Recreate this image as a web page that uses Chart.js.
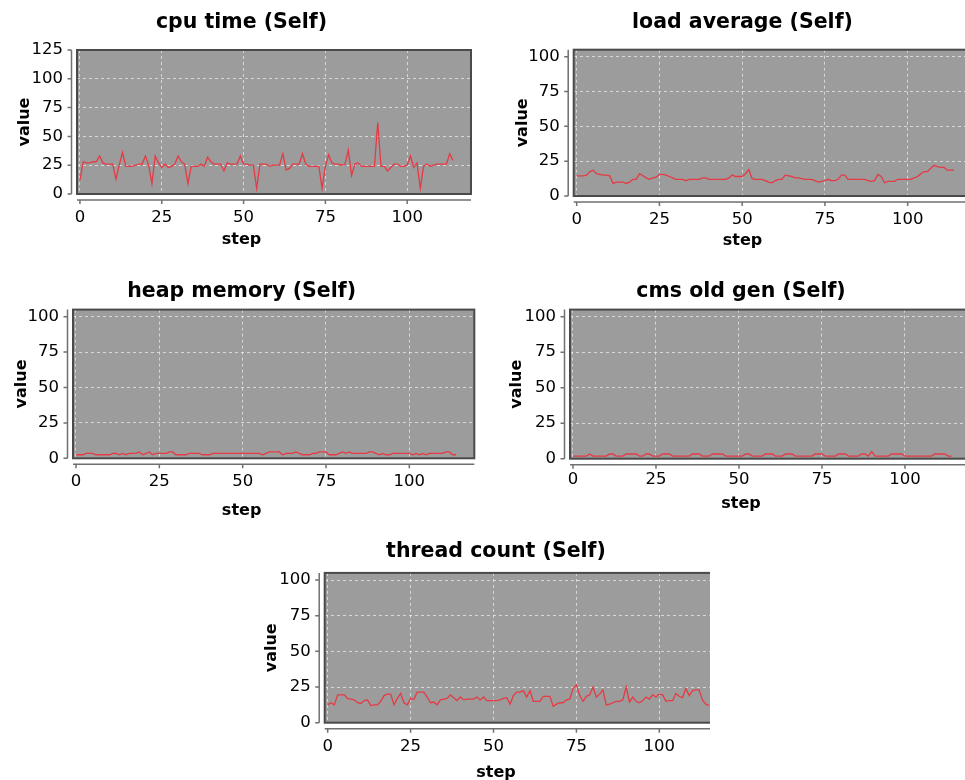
<!DOCTYPE html>
<html>
<head>
<meta charset="utf-8">
<script src="https://cdn.jsdelivr.net/npm/chart.js@4/dist/chart.umd.min.js"></script>
<style>
  html, body { margin:0; padding:0; background:#ffffff; width:965px; height:780px; overflow:hidden; position:relative; }
  canvas { position:absolute; }
  .clip { position:absolute; overflow:hidden; }
</style>
</head>
<body>
<canvas id="c1" width="487" height="255" style="left:0px;top:0px"></canvas>
<canvas id="c2" width="486" height="256" style="left:500px;top:0px"></canvas>
<canvas id="c3" width="484" height="257" style="left:0px;top:269px"></canvas>
<canvas id="c4" width="480" height="250" style="left:500px;top:269px"></canvas>
<div class="clip" style="left:260px;top:529px;width:450px;height:251px">
  <canvas id="c5" width="470" height="259" style="left:0px;top:0px"></canvas>
</div>
<script>
// ---- data ----
const chartTitles = ["cpu time (Self)", "load average (Self)", "heap memory (Self)", "cms old gen (Self)", "thread count (Self)"];
const xTitle = "step";
const yTitle = "value";
const xTickValues = [0, 25, 50, 75, 100];
const yTickValuesCpu = [0, 25, 50, 75, 100, 125];
const yTickValuesOther = [0, 25, 50, 75, 100];

const cpuTime = [12,28,27,27,28,28,33,27,26,26,
 26,13,25,36,24,24,24,25,26,26,
 33,25,9,33,27,23,26,23,24,26,
 33,28,26,9,24,24,24,26,24,32,
 28,26,26,26,20,27,26,26,26,33,
 26,26,25,25,5,26,26,26,24,25,
 25,25,35,21,22,26,26,26,35,26,
 24,24,24,24,5,24,34,27,26,26,
 25,26,38,16,26,27,24,24,24,24,
 24,62,24,24,20,23,26,26,24,24,
 25,33,23,27,5,24,26,24,25,26,
 26,26,26,35,29];

const loadAverage = [14.5,14.5,14.5,15,17.5,18.5,16,15.5,15,15,
 14.5,9,10,10,10,9,10,12,12,16,
 14.5,13,12,13,13.5,15.5,15.5,15,14,13,
 12,12,12,11,12,12,12,12,13,13,
 12,12,12,12,12,12,13,15,14,14,
 14,16,19,12.5,12,12,12,11,10,9.5,
 11,12,12,15,14.5,14,13,13,12.5,12,
 12,12,11,10,10.5,11,12,11,11,12,
 15,15,12,12,12,12,12,12,11,10.5,
 11,15.5,14,9.5,10.5,10.5,10.5,12,12,12,
 12,12,13,14,16,17.5,17.5,20,22,21,
 20.5,20.5,18.5,18.5,18.5];

const heapMemory = [2.5,2.5,2.5,3.5,3.5,3.5,2.5,2.5,2.5,2.5,
 2.5,3.5,3.5,2.5,3.5,2.5,3.5,3.5,3.5,4.5,
 2.5,3.5,4.5,2.5,3.5,3.5,3.5,3.5,4.5,4.5,
 2.5,2.5,2.5,2.5,3.5,3.5,3.5,3.5,2.5,2.5,
 2.5,3.5,3.5,3.5,3.5,3.5,3.5,3.5,3.5,3.5,
 3.5,3.5,3.5,3.5,3.5,3.5,2.5,3.5,4.5,4.5,
 4.5,4.5,2.5,3.5,3.5,3.5,4.5,3.5,2.5,2.5,
 2.5,3.5,3.5,4.5,4.5,4.5,2.5,2.5,2.5,3.5,
 4.5,3.5,4.5,3.5,3.5,3.5,3.5,3.5,4.5,4.5,
 3.5,2.5,3.5,2.5,2.5,3.5,3.5,3.5,3.5,3.5,
 3.5,2.5,3.5,2.5,3.5,2.5,3.5,3.5,3.5,3.5,
 3.5,4.5,4.5,2.5,2.5];

const cmsOldGen = [1.8,1.8,1.8,1.8,1.8,3.3,1.8,1.8,1.8,1.8,
 1.8,3.3,3.3,1.8,1.8,1.8,3.3,3.3,3.3,3.3,
 1.8,1.8,3.3,3.3,1.8,1.8,1.8,3.3,3.3,3.3,
 1.8,1.8,1.8,1.8,1.8,1.8,3.3,3.3,3.3,1.8,
 1.8,1.8,3.3,3.3,3.3,3.3,1.8,1.8,1.8,1.8,
 1.8,1.8,3.3,3.3,1.8,1.8,1.8,1.8,3.3,3.3,
 3.3,1.8,1.8,1.8,3.3,3.3,3.3,1.8,1.8,1.8,
 1.8,1.8,1.8,3.3,3.3,3.3,1.8,1.8,1.8,1.8,
 3.3,3.3,3.3,1.8,1.8,1.8,1.8,3.3,3.3,1.8,
 5,1.8,1.8,1.8,1.8,1.8,3.3,3.3,3.3,3.3,
 1.8,1.8,1.8,1.8,1.8,1.8,1.8,1.8,1.8,3.3,
 3.3,3.3,3.3,1.8,1.8];

const threadCount = [12.5,14,12.5,19.5,19.5,19.5,17,16.5,16,14,
 13.5,15.5,16,12,12.5,12.5,15,19,20,20,
 12.5,17,20.5,14,12.5,17,16.5,21.5,21.5,21.5,
 18,14,14.5,12.5,16,16.5,17,19.5,17.5,15.5,
 18,16,16.5,16.5,16.5,18,16,18,15.5,15.5,
 15.5,15.5,16,17,17.5,13,19,21.5,21.5,22.5,
 18,22.5,15,15,15,18.5,18.5,18.5,11.5,13,
 14,14,16,16.5,24,26.5,19,15,18.5,19.5,
 25,18,20,23,12.5,13,14,15,15,16,
 25,14.5,18,15,14,15.5,18,16.5,19.5,18,
 20,19.5,15,15.5,15.5,20.5,18.5,17.5,24,19,
 22.5,23,23,16,13,12];

// ---- styling / layout (not data) ----
const FONT = "'DejaVu Sans', Verdana, sans-serif";
const PLOT_BG = '#9c9c9c';
const LINE_COLOR = '#e63a44';

const framePlugin = {
  id: 'frame',
  beforeDraw(chart) {
    const {ctx, chartArea: a} = chart;
    ctx.save();
    ctx.fillStyle = PLOT_BG;
    ctx.fillRect(a.left, a.top, a.right - a.left, a.bottom - a.top);
    ctx.restore();
  },
  afterDraw(chart) {
    const {ctx, chartArea: a, scales} = chart;
    ctx.save();
    ctx.strokeStyle = '#4a4a4a';
    ctx.lineWidth = 2;
    ctx.strokeRect(a.left, a.top, a.right - a.left, a.bottom - a.top);
    ctx.strokeStyle = '#707070';
    ctx.lineWidth = 1.5;
    ctx.beginPath();
    const ax = a.left - 5.5;
    ctx.moveTo(ax, a.top); ctx.lineTo(ax, a.bottom);
    scales.y.ticks.forEach(t => {
      const y = scales.y.getPixelForValue(t.value);
      ctx.moveTo(ax, y); ctx.lineTo(ax - 4, y);
    });
    const ay = a.bottom + 6;
    ctx.moveTo(a.left, ay); ctx.lineTo(a.right, ay);
    scales.x.ticks.forEach(t => {
      const x = scales.x.getPixelForValue(t.value);
      ctx.moveTo(x, ay); ctx.lineTo(x, ay + 4);
    });
    ctx.stroke();
    ctx.restore();
  }
};

function makeChart(id, title, values, yTicks, g) {
  const yMax = yTicks[yTicks.length - 1] === 125 ? 125 : 105;
  new Chart(document.getElementById(id), {
    type: 'line',
    data: {
      datasets: [{
        data: values.map((v, i) => ({x: i, y: v})),
        borderColor: LINE_COLOR,
        borderWidth: 1.3,
        pointRadius: 0,
        tension: 0,
        fill: false
      }]
    },
    options: {
      responsive: false,
      animation: false,
      events: [],
      layout: { padding: { left: g.padLeft, right: g.padRight, top: 0, bottom: 0 } },
      plugins: {
        legend: { display: false },
        tooltip: { enabled: false },
        title: {
          display: true, text: title, color: '#000',
          font: { family: FONT, size: 20.5, weight: 'bold' },
          padding: { top: 10, bottom: g.titleBottom }
        },
        subtitle: {
          display: true, text: xTitle, position: 'bottom', color: '#000',
          font: { family: FONT, size: 16, weight: 'bold' },
          padding: { top: 0, bottom: 6 }
        }
      },
      scales: {
        x: {
          type: 'linear', min: -0.9, max: 119.5,
          afterFit: s => { s.height = g.xHeight; },
          afterBuildTicks: s => { s.ticks = xTickValues.map(v => ({value: v})); },
          ticks: { includeBounds: false, color: '#000', padding: g.xTickPad,
                   font: { family: FONT, size: 16.5 }, maxRotation: 0 },
          grid: { color: 'rgba(235,235,235,0.75)', lineWidth: 1, drawTicks: true,
                  tickLength: 8, tickColor: 'rgba(0,0,0,0)' },
          border: { display: false, dash: [3, 3] }
        },
        y: {
          type: 'linear', min: 0, max: yMax,
          afterFit: s => { s.width = g.yWidth; },
          afterBuildTicks: s => { s.ticks = yTicks.map(v => ({value: v})); },
          ticks: { includeBounds: false, color: '#000', padding: 6,
                   font: { family: FONT, size: 16.5 } },
          grid: { color: 'rgba(235,235,235,0.75)', lineWidth: 1, drawTicks: true,
                  tickLength: 8, tickColor: 'rgba(0,0,0,0)' },
          border: { display: false, dash: [3, 3] },
          title: { display: true, text: yTitle, color: '#000',
                   font: { family: FONT, size: 16, weight: 'bold' },
                   padding: { top: g.yTitlePad, bottom: 0 } }
        }
      }
    },
    plugins: [framePlugin]
  });
}

makeChart('c1', chartTitles[0], cpuTime, yTickValuesCpu,
  { padLeft: 12, padRight: 16, titleBottom: 15.4, xHeight: 35.8, yWidth: 65, yTitlePad: 3.4, xTickPad: 6 });
makeChart('c2', chartTitles[1], loadAverage, yTickValuesOther,
  { padLeft: 12.8, padRight: 13.8, titleBottom: 15.1, xHeight: 34.8, yWidth: 60.9, yTitlePad: 0.9, xTickPad: 6 });
makeChart('c3', chartTitles[2], heapMemory, yTickValuesOther,
  { padLeft: 8.9, padRight: 9.7, titleBottom: 6, xHeight: 42.5, yWidth: 64.1, yTitlePad: 3.2, xTickPad: 6 });
makeChart('c4', chartTitles[3], cmsOldGen, yTickValuesOther,
  { padLeft: 12.3, padRight: 10.3, titleBottom: 6, xHeight: 35.1, yWidth: 57.7, yTitlePad: -4.9, xTickPad: 3 });
makeChart('c5', chartTitles[4], threadCount, yTickValuesOther,
  { padLeft: 8, padRight: 6, titleBottom: 9.3, xHeight: 40.1, yWidth: 56.7, yTitlePad: -5.9, xTickPad: 6 });
</script>
</body>
</html>
